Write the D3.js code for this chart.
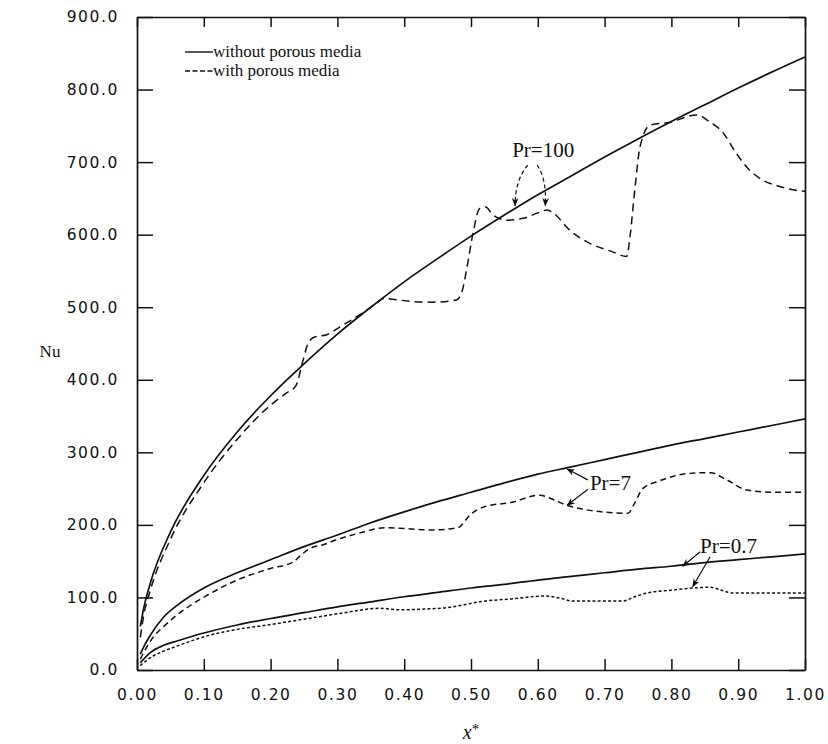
<!DOCTYPE html>
<html>
<head>
<meta charset="utf-8">
<script src="https://cdn.jsdelivr.net/npm/d3@7"></script>
<style>
  body { margin: 0; background: #fff; }
  .tick text { font-family: "DejaVu Sans", sans-serif; font-size: 15.5px; letter-spacing: 1.6px; fill: #111; }
  .serif { font-family: "Liberation Serif", "Times New Roman", serif; fill: #111; }
</style>
</head>
<body>
<div id="chart"></div>
<script>
// x* positions and Nu values
// Pr = 100
const pr100Plain = [[0.005,60],[0.01,85],[0.02,120],[0.05,190],[0.1,268],[0.15,328],[0.2,378],[0.25,422],[0.3,463],[0.35,500],[0.4,535],[0.45,567],[0.5,598],[0.55,627],[0.6,655],[0.65,681],[0.7,707],[0.75,732],[0.8,756],[0.85,779],[0.9,802],[0.95,824],[1.0,845]];
const pr100Porous = [[0.005,45],[0.01,75],[0.02,110],[0.05,180],[0.1,258],[0.15,318],[0.2,365],[0.224,382],[0.238,392],[0.248,425],[0.256,450],[0.266,459],[0.284,462],[0.304,473],[0.329,487],[0.355,503],[0.37,512],[0.383,511],[0.41,508],[0.443,507],[0.478,510],[0.486,520],[0.494,555],[0.503,602],[0.513,636],[0.522,638],[0.533,627],[0.554,620],[0.58,623],[0.6,630],[0.614,634],[0.623,630],[0.648,606],[0.678,588],[0.71,577],[0.733,570],[0.738,597],[0.745,660],[0.753,721],[0.768,751],[0.798,755],[0.838,765],[0.858,755],[0.877,741],[0.895,715],[0.913,693],[0.937,675],[0.96,667],[0.988,661],[1.0,660]];
// Pr = 7
const pr7Plain = [[0.005,22],[0.01,32],[0.02,48],[0.04,73],[0.06,89],[0.1,113],[0.15,134],[0.2,152],[0.25,170],[0.3,186],[0.35,203],[0.4,218],[0.45,232],[0.5,245],[0.55,258],[0.6,270],[0.65,280],[0.7,290],[0.75,300],[0.8,310],[0.85,319],[0.9,328],[0.95,337],[1.0,346]];
const pr7Porous = [[0.005,15],[0.01,24],[0.024,45],[0.04,60],[0.06,76],[0.105,103],[0.15,124],[0.2,140],[0.234,149],[0.245,158],[0.26,168],[0.28,173],[0.3,180],[0.33,188],[0.37,196],[0.4,195],[0.44,193],[0.48,196],[0.5,215],[0.52,225],[0.56,231],[0.603,241],[0.62,236],[0.644,227],[0.678,220],[0.735,216],[0.745,230],[0.757,250],[0.78,260],[0.828,271],[0.858,272],[0.883,262],[0.913,248],[0.95,245],[1.0,245]];
// Pr = 0.7
const pr07Plain = [[0.005,10],[0.01,15],[0.02,24],[0.04,34],[0.06,40],[0.1,51],[0.15,62],[0.2,71],[0.25,79],[0.3,87],[0.35,94],[0.4,101],[0.45,107],[0.5,113],[0.55,118],[0.6,124],[0.65,129],[0.7,134],[0.75,139],[0.8,143],[0.85,148],[0.9,152],[0.95,156],[1.0,160]];
const pr07Porous = [[0.005,6],[0.01,10],[0.02,17],[0.04,26],[0.06,33],[0.105,47],[0.15,56],[0.195,62],[0.25,70],[0.304,78],[0.364,85],[0.394,83],[0.43,84],[0.464,86],[0.49,90],[0.513,94],[0.56,98],[0.613,102],[0.633,99],[0.653,95],[0.727,95],[0.745,101],[0.763,106],[0.8,110],[0.832,113],[0.858,114],[0.875,110],[0.892,106],[0.95,106],[1.0,106]];

const xTicks = [0, 0.1, 0.2, 0.3, 0.4, 0.5, 0.6, 0.7, 0.8, 0.9, 1.0];
const yTicks = [0, 100, 200, 300, 400, 500, 600, 700, 800, 900];
const legendLabels = ["without porous media", "with porous media"];

const width = 828, height = 744;
const margin = {top: 17, right: 23, bottom: 74, left: 137};

const svg = d3.select("#chart").append("svg")
    .attr("width", width)
    .attr("height", height);

const x = d3.scaleLinear().domain([0, 1]).range([margin.left, width - margin.right]);
const y = d3.scaleLinear().domain([0, 900]).range([height - margin.bottom, margin.top]);

// arrow head
svg.append("defs").append("marker")
    .attr("id", "head")
    .attr("viewBox", "0 0 10 10")
    .attr("refX", 9).attr("refY", 5)
    .attr("markerWidth", 7).attr("markerHeight", 7)
    .attr("orient", "auto-start-reverse")
    .append("path")
    .attr("d", "M0,1 L10,5 L0,9 L3,5 Z")
    .attr("fill", "#111");

// axes, ticks all point inward
svg.append("g")
    .attr("transform", "translate(0," + y(0) + ")")
    .call(d3.axisBottom(x).tickValues(xTicks).tickSizeInner(-11).tickSizeOuter(0).tickPadding(19).tickFormat(d3.format(".2f")));

svg.append("g")
    .attr("transform", "translate(" + x(0) + ",0)")
    .call(d3.axisLeft(y).tickValues(yTicks).tickSizeInner(-16).tickSizeOuter(0).tickPadding(18).tickFormat(d3.format(".1f")));

svg.append("g")
    .attr("transform", "translate(0," + y(900) + ")")
    .call(d3.axisTop(x).tickValues(xTicks).tickSizeInner(-10).tickSizeOuter(0).tickFormat(""));

svg.append("g")
    .attr("transform", "translate(" + x(1) + ",0)")
    .call(d3.axisRight(y).tickValues(yTicks).tickSizeInner(-16).tickSizeOuter(0).tickFormat(""));

svg.selectAll(".domain").attr("stroke", "#111").attr("stroke-width", 1.7);
svg.selectAll(".tick line").attr("stroke", "#111").attr("stroke-width", 1.5);

// curves
const line = d3.line()
    .x(d => x(d[0]))
    .y(d => y(d[1]))
    .curve(d3.curveMonotoneX);

const series = [
    {data: pr100Plain, dash: null},
    {data: pr100Porous, dash: "8,5"},
    {data: pr7Plain, dash: null},
    {data: pr7Porous, dash: "6,4"},
    {data: pr07Plain, dash: null},
    {data: pr07Porous, dash: "3,2.2"}
];

svg.selectAll(".curve")
    .data(series)
    .enter().append("path")
    .attr("class", "curve")
    .attr("d", d => line(d.data))
    .attr("fill", "none")
    .attr("stroke", "#111")
    .attr("stroke-width", d => d.dash ? 1.5 : 1.7)
    .attr("stroke-dasharray", d => d.dash);

// legend
const legend = svg.append("g");
legendLabels.forEach((label, i) => {
    const ly = 52 + i * 19;
    legend.append("line")
        .attr("x1", 185).attr("x2", 213)
        .attr("y1", ly).attr("y2", ly)
        .attr("stroke", "#111")
        .attr("stroke-width", 1.4)
        .attr("stroke-dasharray", i === 0 ? null : "5,2.5");
    legend.append("text")
        .attr("class", "serif")
        .attr("x", 213).attr("y", ly + 5)
        .attr("font-size", 17)
        .text(label);
});

// axis titles
svg.append("text")
    .attr("class", "serif")
    .attr("x", 50).attr("y", 357)
    .attr("text-anchor", "middle")
    .attr("font-size", 17)
    .text("Nu");

const xt = svg.append("text")
    .attr("class", "serif")
    .attr("x", 471).attr("y", 739)
    .attr("text-anchor", "middle")
    .attr("font-size", 20);
xt.append("tspan").attr("font-style", "italic").text("x");
xt.append("tspan").attr("dy", -5).attr("font-size", 15).text("*");

// Prandtl annotations
const labels = [
    {text: "Pr=100", x: 0.608, y: 707, anchor: "middle"},
    {text: "Pr=7", x: 0.678, y: 248, anchor: "start"},
    {text: "Pr=0.7", x: 0.843, y: 161, anchor: "start"}
];
labels.forEach(l => {
    svg.append("text")
        .attr("class", "serif")
        .attr("x", x(l.x)).attr("y", y(l.y))
        .attr("text-anchor", l.anchor)
        .attr("font-size", 21)
        .text(l.text);
});

const arrows = [
    {from: [0.585, 696], via: [0.566, 675], to: [0.566, 640]},
    {from: [0.599, 696], via: [0.614, 675], to: [0.611, 640]},
    {from: [0.675, 262], to: [0.644, 277]},
    {from: [0.675, 249], to: [0.644, 227]},
    {from: [0.843, 163], to: [0.817, 143]},
    {from: [0.858, 156], to: [0.832, 115]}
];
arrows.forEach(a => {
    const p = d3.path();
    p.moveTo(x(a.from[0]), y(a.from[1]));
    if (a.via) p.quadraticCurveTo(x(a.via[0]), y(a.via[1]), x(a.to[0]), y(a.to[1]));
    else p.lineTo(x(a.to[0]), y(a.to[1]));
    svg.append("path")
        .attr("d", p.toString())
        .attr("fill", "none")
        .attr("stroke", "#111")
        .attr("stroke-width", 1.2)
        .attr("stroke-dasharray", a.via ? "4,3" : null)
        .attr("marker-end", "url(#head)");
});
</script>
</body>
</html>
